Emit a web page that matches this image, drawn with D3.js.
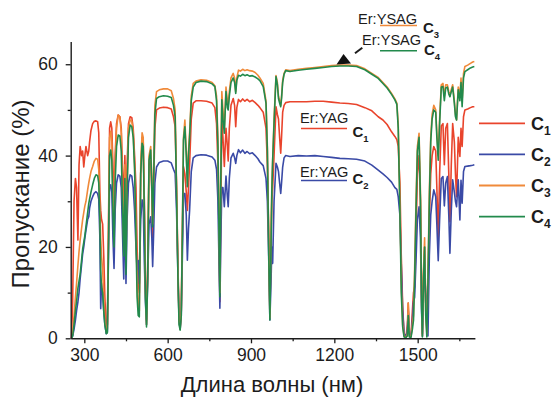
<!DOCTYPE html>
<html>
<head>
<meta charset="utf-8">
<script src="https://cdn.jsdelivr.net/npm/d3@7"></script>
<style>
  html, body { margin: 0; padding: 0; background: #fff; }
  svg { display: block; font-family: "Liberation Sans", Arial, sans-serif; }
</style>
</head>
<body>
<svg id="chart" width="552" height="400"></svg>
<script>
// Transmission spectra of Er:YAG (C1, C2) and Er:YSAG (C3, C4) ceramics
const wavelengths = [
  254,258,263,268,272,277,281,285,290,294,298,302,306,312,316,319,324,330,336,342,348,352,356,359,362,366,370,374,379,383,
  387,391,395,399,403,407,411,416,422,428,433,437,442,446,450,454,459,465,471,476,481,486,490,494,498,503,508,512,516,520,
  524,528,533,539,543,546,550,554,560,570,585,600,613,621,627,632,637,641,645,649,653,657,662,667,671,675,679,685,692,702,
  720,740,760,770,776,781,785,788,791,795,799,804,810,815,818,822,828,836,841,845,849,855,862,870,878,886,895,905,915,925,
  932,944,954,959,964,968,972,975,978,983,990,995,999,1003,1007,1010,1014,1019,1025,1040,1070,1100,1130,1160,1190,1220,1250,1280,1310,1335,
  1358,1375,1390,1406,1418,1425,1430,1436,1441,1446,1451,1458,1463,1466,1470,1476,1481,1485,1489,1494,1499,1505,1510,1514,1517,1521,1525,1529,1533,1537,
  1542,1547,1552,1558,1565,1569,1574,1579,1585,1591,1596,1601,1607,1612,1616,1621,1626,1632,1636,1640,1646,1652,1656,1660,1665,1670,1680,1690,1698,1704
];

// C1 — Er:YAG
const c1 = [
  0,8,30,35,33,21.5,38,42,40,41,37.5,40,42,40,41,43,45.5,47,47.5,47.6,47.4,45,32,28,26,25,18,9,2,3,
  25,46,47.4,46,38,30,40,47,48.9,48.5,46,38,30,40,28,38,47,48.5,48.3,46,40,33,20,12,10,36,44,43,30,12,
  4,15,38,39,32,22,34,46,50,50.4,50.6,50.5,50.2,48.5,46.3,33,16,5,2.5,6,22,37.6,36,32,28,33,38,48,51.5,52,
  52,51.9,51.5,50.5,47,38,22,8,25,48,44,37.6,46,42,38.8,46,51,52.5,51,46.3,50.5,52.3,51.8,52.4,51.9,52.3,51.8,52.1,51.6,51,
  50.5,49.5,46,38,22,6,20,30,33,40,50.7,49,48,44,40.5,44,49.5,51,51.6,51.8,51.8,51.8,51.9,51.9,51.7,51.5,51.4,51.2,50.5,49.8,
  48.5,47.8,46.8,45.2,44.2,43.5,42,34,18,7,1,0.2,3,7.7,1,0.5,6,10,11.3,22,36,40,30,10,1,14,20,8,2,12,
  26,36,40,42,41,33,22,36,46.5,47,38,46,47,36,25.5,38,47,43,36,31,44,39.8,46,42,48.5,50,50.2,50.5,50.7,50.7
];

// C2 — Er:YAG
const c2 = [
  0,0.5,2,4,6,8,10,13,16,18.5,20,22,23.7,26,26.6,28.5,30,31,31.8,32.1,31.7,30.5,22,6.5,12,10,6,3,1,1.5,
  18,33,33.6,32,22,15.3,28,34,35.8,35.5,33,24,13,30,12,26,34,35.8,35.5,33,28,20,15,17,12,26,30.3,29.5,17,8,
  3,12,25,26.6,22,15.7,24,34,37.5,38.5,38.8,38.8,38.4,37,36.1,28,14,4,2,5,18,31.7,31.7,27,17.1,24,28,36.5,39.5,40,
  40.2,40.1,39.7,39,37,30,16,6.6,20,33,33,28.8,35.5,31,28.8,35,39.5,40.5,39.5,38.3,40,41.3,40.6,41.2,40.5,40.9,40.4,40.6,40,39.3,
  38.6,37.8,35,30,17,4,12,20,16.4,30,38.3,37.5,36.5,34,31.7,34,37.5,39.5,40,39.8,40,39.9,40,39.8,39.6,39.4,39.3,39.2,38.8,37.9,
  36.8,36,35.2,34.2,33,32.6,31,27,16,6,1,0.3,2,6.2,1,0.5,4,8,9,17,26,28.8,22,6,0.5,10,14,10,8,0.5,
  18,27,30,32.5,31,25,17,26,35,35.4,29,34,35.4,27,18.6,28,34.7,32,30,28.8,34.7,25.9,34.6,29.6,36.5,37.6,37.7,37.8,37.9,38
];

// C3 — Er:YSAG
const c3 = [
  0,1,5,9,12,16,19,21.5,24,26,27.5,29,30,32.5,34,35,36.5,37.6,38.8,39.4,39.2,37,29,22,18,15,9,4,1.5,2,
  22,44,45.3,43,32,24,38,46,48.9,48.5,45,33,22,38,18,34,46,47.8,47.5,45,38,25,12,7,6,38,45,44,30,10,
  3,14,40,42,35,25,38,51,54,54.4,54.6,54.6,54.2,52.5,50,33,15,4,2,6,25,44,47.8,41,34,41,45,53,55.8,56.3,
  56.6,56.5,56,55.3,53,44,25,10,35,54,50,46,55,52,51,54,57,58,57,54,57,58.7,58.5,58.9,58.6,58.8,58.6,58.5,58.2,57.6,
  57,55.8,52,42,20,4.5,22,33,39,48,57.5,56,53,52,51,53,56.5,58,58.8,58.6,58.9,59.1,59.3,59.5,59.7,59.8,59.8,59.7,59,58,
  57.1,56,55,53.6,52.4,51.5,47,30,12,3,0.5,0.2,1,7.7,0.5,0.3,3,5,15,30,42,44.9,32,8,0.5,15,22,6,1,14,
  32,44,49,51,50,45,40,48,55.5,55.8,53,55.5,55.5,54,53,54.5,55.5,52,49,47.8,55,53,57,52,58,59.5,59.8,60.2,60.5,60.6
];

// C4 — Er:YSAG
const c4 = [
  0,0.5,3,6,8,11,12.5,14,17,19.5,21,22.5,24.5,27.5,29.5,30.5,32,33.6,35,35.8,35.6,34,26,15,11,10,6,3,1,1.2,
  20,40,41.2,39,28,20,34,42,44.5,44.3,41,30,18,35,14,32,44,46.7,46.3,44,37,22,9,5,4.7,36,42.7,42,28,9,
  2.5,13,39,41.2,33,24.4,36,49,52.5,52.9,53.1,53,52.7,51,48.5,31.8,13.5,3,1.8,5,23,43.4,46.3,40,33.2,40,44,52,55,56,
  56.3,56.2,55.7,55.1,52,42,22,9.1,33,52.2,48,44.9,54,50.5,50,53,56,57,56,53.6,56.5,57.6,57.4,57.8,57.5,57.7,57.4,57.5,57.2,56.8,
  56.4,55.1,51.5,41,18,4,20,32,39,47,57.3,55.5,52.5,51.5,50.7,52.5,56,57.8,58.6,58.4,58.7,58.9,59.1,59.3,59.5,59.6,59.6,59.5,58.8,57.8,
  56.9,55.8,54.8,53.4,52.2,51.2,46,28,10,2.5,0.3,0.2,0.5,5,0.3,0.2,2,4,13,28,41,44,30,7,0.3,13,20,5,0.3,12,
  30,43,48,50,49.5,44,39,47,55,55.1,52,54.8,55,53.5,52.9,54,55,51.5,48.5,47.8,54.4,52,56,50.7,57,58.4,58.8,59.2,59.4,59.5
];

const seriesData = [c1, c2, c3, c4];
const seriesLabels = ["C", "C", "C", "C"];
const seriesSubs = ["1", "2", "3", "4"];
const seriesColors = ["#e9442c", "#3a4aa6", "#f08a3a", "#228a4c"];

const xTicks = [300, 600, 900, 1200, 1500];
const xMinorTicks = [450, 750, 1050, 1350, 1650];
const yTicks = [0, 20, 40, 60];
const yMinorTicks = [10, 30, 50];

const xTitle = "Длина волны (нм)";
const yTitle = "Пропускание (%)";

const svg = d3.select("#chart");
const ink = "#1c1c1c";

const x = d3.scaleLinear().domain([251, 1706]).range([70.7, 474.9]);
const y = d3.scaleLinear().domain([0, 65]).range([338.3, 41.4]);

// spectra (green drawn last, on top)
const line = d3.line().x((d, i) => x(wavelengths[i])).y(d => y(d));
const plot = svg.append("g");
seriesData.forEach((vals, k) => {
  plot.append("path")
    .datum(vals)
    .attr("d", line)
    .attr("fill", "none")
    .attr("stroke", seriesColors[k])
    .attr("stroke-width", 1.6)
    .attr("stroke-linejoin", "round");
});

// axes
function styleAxis(g) {
  g.selectAll("path.domain").attr("stroke", ink).attr("stroke-width", 1.4);
  g.selectAll(".tick line").attr("stroke", ink).attr("stroke-width", 1.3);
  g.selectAll(".tick text").attr("fill", ink).style("font-size", "17.5px")
    .style("font-family", '"Liberation Sans", Arial, sans-serif');
}
const fmt = d3.format("d");
const xAxisG = svg.append("g").attr("transform", `translate(0,${y(0)})`)
  .call(d3.axisBottom(x).tickValues(xTicks).tickFormat(fmt).tickSize(5).tickSizeOuter(0).tickPadding(5));
styleAxis(xAxisG);
const xMinorG = svg.append("g").attr("transform", `translate(0,${y(0)})`)
  .call(d3.axisBottom(x).tickValues(xMinorTicks).tickSize(3).tickSizeOuter(0).tickFormat(""));
xMinorG.select("path.domain").remove();
styleAxis(xMinorG);

const yAxisG = svg.append("g").attr("transform", `translate(${x.range()[0]},0)`)
  .call(d3.axisLeft(y).tickValues(yTicks).tickFormat(fmt).tickSize(5).tickSizeOuter(0).tickPadding(8));
styleAxis(yAxisG);
const yMinorG = svg.append("g").attr("transform", `translate(${x.range()[0]},0)`)
  .call(d3.axisLeft(y).tickValues(yMinorTicks).tickSize(3).tickSizeOuter(0).tickFormat(""));
yMinorG.select("path.domain").remove();
styleAxis(yMinorG);

// axis titles
svg.append("text").attr("x", 272).attr("y", 392).attr("text-anchor", "middle")
  .attr("fill", ink).style("font-size", "22px").text(xTitle);
svg.append("text").attr("transform", "translate(29,194) rotate(-90)").attr("text-anchor", "middle")
  .attr("fill", ink).style("font-size", "24px").text(yTitle);

// legend on the right
seriesColors.forEach((col, k) => {
  const ly = 123.3 + k * 31.1;
  svg.append("line").attr("x1", 479).attr("x2", 525).attr("y1", ly).attr("y2", ly)
    .attr("stroke", col).attr("stroke-width", 1.8);
  const t = svg.append("text").attr("x", 531).attr("y", ly + 6.5).attr("fill", ink)
    .style("font-size", "18px").style("font-weight", "bold").text(seriesLabels[k]);
  t.append("tspan").attr("dy", 5).style("font-size", "12px").text(seriesSubs[k]);
});

// in-plot sample labels
const notes = [
  { name: "Er:YAG",  tx: 300, ty: 123, lx1: 301, lx2: 347, ly: 128.5, cx: 352.5, cy: 137, k: 0 },
  { name: "Er:YAG",  tx: 300, ty: 177, lx1: 301, lx2: 347, ly: 180.5, cx: 352.5, cy: 184, k: 1 },
  { name: "Er:YSAG", tx: 358, ty: 24,  lx1: 380, lx2: 417, ly: 25.5,  cx: 423,   cy: 33,  k: 2 },
  { name: "Er:YSAG", tx: 362, ty: 45,  lx1: 380, lx2: 417, ly: 50.8,  cx: 424,   cy: 55,  k: 3 }
];
notes.forEach(n => {
  svg.append("text").attr("x", n.tx).attr("y", n.ty).attr("fill", ink)
    .style("font-size", "14.6px").text(n.name);
  svg.append("line").attr("x1", n.lx1).attr("x2", n.lx2).attr("y1", n.ly).attr("y2", n.ly)
    .attr("stroke", seriesColors[n.k]).attr("stroke-width", 1.6);
  const t = svg.append("text").attr("x", n.cx).attr("y", n.cy).attr("fill", ink)
    .style("font-size", "15px").style("font-weight", "bold").text(seriesLabels[n.k]);
  t.append("tspan").attr("dy", 4.5).style("font-size", "9.5px").text(seriesSubs[n.k]);
});

// pointer to the Er:YSAG plateau
svg.append("line").attr("x1", 362.3).attr("y1", 47.7).attr("x2", 355).attr("y2", 53.3)
  .attr("stroke", ink).attr("stroke-width", 2);
svg.append("path").attr("d", "M343.5,54L336.5,64.5L351,63.5Z").attr("fill", "#111");
</script>
</body>
</html>
